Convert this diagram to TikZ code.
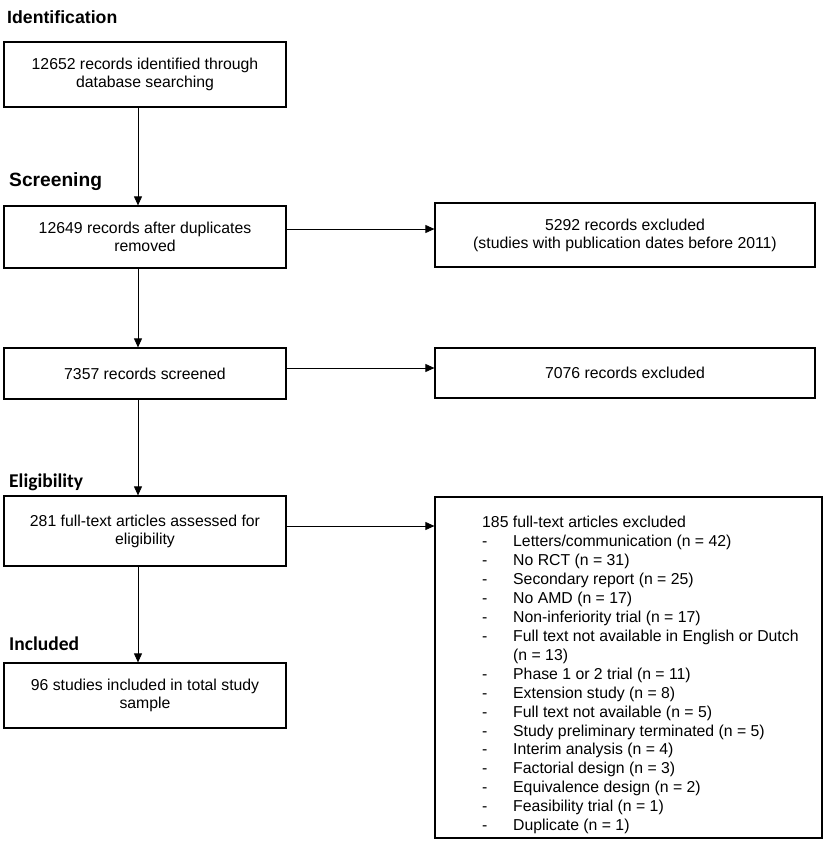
\documentclass[tikz,border=0pt]{standalone}
\usepackage{fontspec}
\setmainfont{Liberation Sans}
\newfontfamily\calib{Carlito}
\usetikzlibrary{arrows.meta}
\begin{document}
\begin{tikzpicture}[x=1pt,y=-1pt,
 box/.style={draw=black,line width=1.2pt,inner sep=0pt,align=center,font=\fontsize{15.8}{18}\selectfont},
 arr/.style={draw=black,line width=0.8pt,-{Triangle[length=9pt,width=8pt]}},
 head/.style={anchor=base west,inner sep=0pt},
 item/.style={anchor=base west,inner sep=0pt,font=\fontsize{15.8}{18}\selectfont}]
\useasboundingbox (0,0) rectangle (829,841);
% headings
\node[head,font=\fontsize{17.7}{20}\selectfont\bfseries] (hid) at (7,23) {Identification};
\node[head,font=\fontsize{19.2}{22}\selectfont\bfseries] (hsc) at (9,186) {Screening};
\node[head,font=\calib\fontsize{19.5}{22}\selectfont\bfseries] (hel) at (9,487) {Eligibility};
\node[head,font=\calib\fontsize{19.5}{22}\selectfont\bfseries] (hin) at (9,650) {Included};
% left column
\node[box,minimum width=282pt,minimum height=65pt] (b1) at (145,74.5) {12652 records identified through\\database searching};
\node[box,minimum width=282pt,minimum height=62pt] (b2) at (145,237) {12649 records after duplicates\\removed};
\node[box,minimum width=282pt,minimum height=51pt] (b3) at (145,373.5) {7357 records screened};
\node[box,minimum width=282pt,minimum height=70pt] (b4) at (145,531) {281 full-text articles assessed for\\eligibility};
\node[box,minimum width=282pt,minimum height=65pt] (b5) at (145,695.5) {96 studies included in total study\\sample};
% right column
\node[box,minimum width=380pt,minimum height=64pt] (r1) at (625,235) {5292 records excluded\\(studies with publication dates before 2011)};
\node[box,minimum width=380pt,minimum height=50pt] (r2) at (625,373) {7076 records excluded};
\node[box,minimum width=387pt,minimum height=341pt] (r3) at (628.5,667.5) {};
% list
\node[item] (l0) at (482,527.7) {185 full-text articles excluded};
\node[item] (l1) at (482,546.64) {\makebox[31pt][l]{-}Letters/communication (n = 42)};
\node[item] (l2) at (482,565.58) {\makebox[31pt][l]{-}No RCT (n = 31)};
\node[item] (l3) at (482,584.52) {\makebox[31pt][l]{-}Secondary report (n = 25)};
\node[item] (l4) at (482,603.46) {\makebox[31pt][l]{-}No AMD (n = 17)};
\node[item] (l5) at (482,622.4) {\makebox[31pt][l]{-}Non-inferiority trial (n = 17)};
\node[item] (l6) at (482,641.34) {\makebox[31pt][l]{-}Full text not available in English or Dutch};
\node[item] (l7) at (482,660.28) {\makebox[31pt][l]{}\char`\(n = 13)};
\node[item] (l8) at (482,679.22) {\makebox[31pt][l]{-}Phase 1 or 2 trial (n = 11)};
\node[item] (l9) at (482,698.16) {\makebox[31pt][l]{-}Extension study (n = 8)};
\node[item] (l10) at (482,717.1) {\makebox[31pt][l]{-}Full text not available (n = 5)};
\node[item] (l11) at (482,736.04) {\makebox[31pt][l]{-}Study preliminary terminated (n = 5)};
\node[item] (l12) at (482,754.98) {\makebox[31pt][l]{-}Interim analysis (n = 4)};
\node[item] (l13) at (482,773.92) {\makebox[31pt][l]{-}Factorial design (n = 3)};
\node[item] (l14) at (482,792.86) {\makebox[31pt][l]{-}Equivalence design (n = 2)};
\node[item] (l15) at (482,811.8) {\makebox[31pt][l]{-}Feasibility trial (n = 1)};
\node[item] (l16) at (482,830.74) {\makebox[31pt][l]{-}Duplicate (n = 1)};
% connectors
\coordinate (spine) at (138,0);
\draw[arr] (b1.south -| spine) -- (b2.north -| spine);
\draw[arr] (b2.south -| spine) -- (b3.north -| spine);
\draw[arr] (b3.south -| spine) -- (b4.north -| spine);
\draw[arr] (b4.south -| spine) -- (b5.north -| spine);
\draw[arr] ([yshift=8pt]b2.east) -- ([yshift=8pt]b2.east -| r1.west);
\draw[arr] ([yshift=5.5pt]b3.east) -- ([yshift=5.5pt]b3.east -| r2.west);
\draw[arr] ([yshift=5pt]b4.east) -- ([yshift=5pt]b4.east -| r3.west);
\end{tikzpicture}
\end{document}
